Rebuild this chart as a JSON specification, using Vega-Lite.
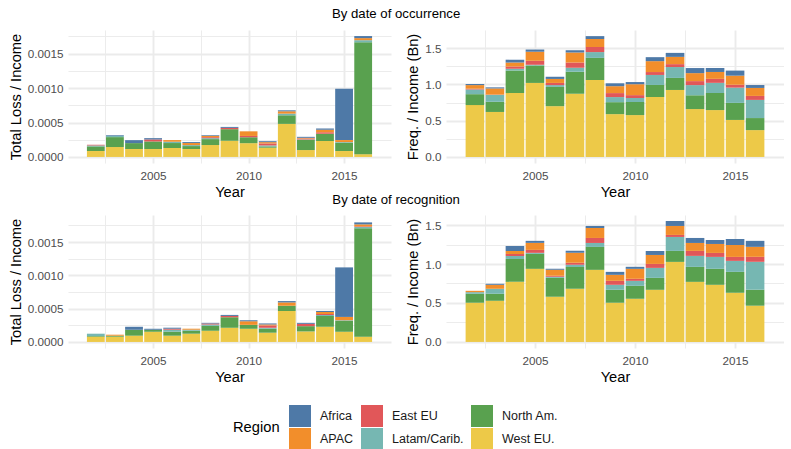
{
  "$schema": "https://vega.github.io/schema/vega-lite/v6.json",
  "background": "white",
  "padding": {"left": 8, "top": 6, "right": 0, "bottom": 2},
  "config": {
    "font": "Liberation Sans",
    "view": {"stroke": null},
    "axis": {
      "domain": false,
      "ticks": false,
      "gridColor": "#EBEBEB",
      "labelColor": "#4D4D4D",
      "labelFontSize": 11.7,
      "labelPadding": 5,
      "titleFontSize": 14.7,
      "titleFontWeight": "normal",
      "titleColor": "#000000",
      "titlePadding": 4
    },
    "axisX": {"labelPadding": 7, "titlePadding": 3},
    "legend": {
      "orient": "bottom",
      "direction": "horizontal",
      "columns": 3,
      "offset": 20,
      "titleOrient": "left",
      "titleFontSize": 14.7,
      "titleFontWeight": "normal",
      "titleColor": "#000000",
      "titlePadding": 9,
      "symbolType": "square",
      "symbolSize": 484,
      "symbolStrokeWidth": 0,
      "symbolOpacity": 1,
      "labelFontSize": 12.5,
      "labelColor": "#1A1A1A",
      "labelOffset": 9,
      "rowPadding": 1,
      "columnPadding": 7,
      "layout": {"bottom": {"anchor": "middle"}}
    },
    "title": {"fontSize": 13.2, "fontWeight": "normal", "anchor": "middle", "color": "#000000"}
  },
  "data": {"values": [
    {"basis":"occurrence","year":2002,"region":"West EU.","loss":0.000086,"freq":0.715},
    {"basis":"occurrence","year":2002,"region":"North Am.","loss":0.000067,"freq":0.15},
    {"basis":"occurrence","year":2002,"region":"Latam/Carib.","loss":0.000014,"freq":0.065},
    {"basis":"occurrence","year":2002,"region":"East EU","loss":0.00001,"freq":0.01},
    {"basis":"occurrence","year":2002,"region":"APAC","loss":0,"freq":0.05},
    {"basis":"occurrence","year":2002,"region":"Africa","loss":0,"freq":0.015},
    {"basis":"occurrence","year":2003,"region":"West EU.","loss":0.000144,"freq":0.62},
    {"basis":"occurrence","year":2003,"region":"North Am.","loss":0.000144,"freq":0.14},
    {"basis":"occurrence","year":2003,"region":"Latam/Carib.","loss":0.000019,"freq":0.095},
    {"basis":"occurrence","year":2003,"region":"East EU","loss":0,"freq":0.004},
    {"basis":"occurrence","year":2003,"region":"APAC","loss":0,"freq":0.085},
    {"basis":"occurrence","year":2003,"region":"Africa","loss":0.00001,"freq":0.015},
    {"basis":"occurrence","year":2004,"region":"West EU.","loss":0.000115,"freq":0.88},
    {"basis":"occurrence","year":2004,"region":"North Am.","loss":0.000086,"freq":0.31},
    {"basis":"occurrence","year":2004,"region":"Latam/Carib.","loss":0,"freq":0.025},
    {"basis":"occurrence","year":2004,"region":"East EU","loss":0,"freq":0.03},
    {"basis":"occurrence","year":2004,"region":"APAC","loss":0,"freq":0.055},
    {"basis":"occurrence","year":2004,"region":"Africa","loss":0.000043,"freq":0.04},
    {"basis":"occurrence","year":2005,"region":"West EU.","loss":0.000115,"freq":1.02},
    {"basis":"occurrence","year":2005,"region":"North Am.","loss":0.00011,"freq":0.24},
    {"basis":"occurrence","year":2005,"region":"Latam/Carib.","loss":0,"freq":0.01},
    {"basis":"occurrence","year":2005,"region":"East EU","loss":0.000029,"freq":0.055},
    {"basis":"occurrence","year":2005,"region":"APAC","loss":0,"freq":0.125},
    {"basis":"occurrence","year":2005,"region":"Africa","loss":0.000019,"freq":0.03},
    {"basis":"occurrence","year":2006,"region":"West EU.","loss":0.00013,"freq":0.7},
    {"basis":"occurrence","year":2006,"region":"North Am.","loss":0.000072,"freq":0.265},
    {"basis":"occurrence","year":2006,"region":"Latam/Carib.","loss":0.000019,"freq":0.025},
    {"basis":"occurrence","year":2006,"region":"East EU","loss":0,"freq":0.03},
    {"basis":"occurrence","year":2006,"region":"APAC","loss":0.000024,"freq":0.055},
    {"basis":"occurrence","year":2006,"region":"Africa","loss":0,"freq":0.03},
    {"basis":"occurrence","year":2007,"region":"West EU.","loss":0.000115,"freq":0.87},
    {"basis":"occurrence","year":2007,"region":"North Am.","loss":0.000043,"freq":0.305},
    {"basis":"occurrence","year":2007,"region":"Latam/Carib.","loss":0.000014,"freq":0.055},
    {"basis":"occurrence","year":2007,"region":"East EU","loss":0,"freq":0.07},
    {"basis":"occurrence","year":2007,"region":"APAC","loss":0.00003,"freq":0.14},
    {"basis":"occurrence","year":2007,"region":"Africa","loss":0.000014,"freq":0.03},
    {"basis":"occurrence","year":2008,"region":"West EU.","loss":0.000173,"freq":1.06},
    {"basis":"occurrence","year":2008,"region":"North Am.","loss":0.000086,"freq":0.305},
    {"basis":"occurrence","year":2008,"region":"Latam/Carib.","loss":0.000014,"freq":0.08},
    {"basis":"occurrence","year":2008,"region":"East EU","loss":0.000014,"freq":0.07},
    {"basis":"occurrence","year":2008,"region":"APAC","loss":0.000019,"freq":0.11},
    {"basis":"occurrence","year":2008,"region":"Africa","loss":0.00001,"freq":0.04},
    {"basis":"occurrence","year":2009,"region":"West EU.","loss":0.000235,"freq":0.59},
    {"basis":"occurrence","year":2009,"region":"North Am.","loss":0.000168,"freq":0.165},
    {"basis":"occurrence","year":2009,"region":"Latam/Carib.","loss":0,"freq":0.07},
    {"basis":"occurrence","year":2009,"region":"East EU","loss":0.000019,"freq":0.055},
    {"basis":"occurrence","year":2009,"region":"APAC","loss":0,"freq":0.095},
    {"basis":"occurrence","year":2009,"region":"Africa","loss":0.000014,"freq":0.04},
    {"basis":"occurrence","year":2010,"region":"West EU.","loss":0.0002,"freq":0.577},
    {"basis":"occurrence","year":2010,"region":"North Am.","loss":0.000086,"freq":0.18},
    {"basis":"occurrence","year":2010,"region":"Latam/Carib.","loss":0,"freq":0.055},
    {"basis":"occurrence","year":2010,"region":"East EU","loss":0.000019,"freq":0.04},
    {"basis":"occurrence","year":2010,"region":"APAC","loss":0.000067,"freq":0.15},
    {"basis":"occurrence","year":2010,"region":"Africa","loss":0,"freq":0.03},
    {"basis":"occurrence","year":2011,"region":"West EU.","loss":0.000134,"freq":0.826},
    {"basis":"occurrence","year":2011,"region":"North Am.","loss":0.000019,"freq":0.166},
    {"basis":"occurrence","year":2011,"region":"Latam/Carib.","loss":0.000014,"freq":0.138},
    {"basis":"occurrence","year":2011,"region":"East EU","loss":0.000029,"freq":0.04},
    {"basis":"occurrence","year":2011,"region":"APAC","loss":0.000019,"freq":0.15},
    {"basis":"occurrence","year":2011,"region":"Africa","loss":0.000014,"freq":0.055},
    {"basis":"occurrence","year":2012,"region":"West EU.","loss":0.00048,"freq":0.923},
    {"basis":"occurrence","year":2012,"region":"North Am.","loss":0.000125,"freq":0.166},
    {"basis":"occurrence","year":2012,"region":"Latam/Carib.","loss":0.000024,"freq":0.15},
    {"basis":"occurrence","year":2012,"region":"East EU","loss":0,"freq":0.04},
    {"basis":"occurrence","year":2012,"region":"APAC","loss":0.000034,"freq":0.1},
    {"basis":"occurrence","year":2012,"region":"Africa","loss":0.000014,"freq":0.055},
    {"basis":"occurrence","year":2013,"region":"West EU.","loss":0.0001,"freq":0.66},
    {"basis":"occurrence","year":2013,"region":"North Am.","loss":0.000149,"freq":0.19},
    {"basis":"occurrence","year":2013,"region":"Latam/Carib.","loss":0.000005,"freq":0.14},
    {"basis":"occurrence","year":2013,"region":"East EU","loss":0.000014,"freq":0.055},
    {"basis":"occurrence","year":2013,"region":"APAC","loss":0.00001,"freq":0.11},
    {"basis":"occurrence","year":2013,"region":"Africa","loss":0.000014,"freq":0.07},
    {"basis":"occurrence","year":2014,"region":"West EU.","loss":0.00023,"freq":0.646},
    {"basis":"occurrence","year":2014,"region":"North Am.","loss":0.000106,"freq":0.235},
    {"basis":"occurrence","year":2014,"region":"Latam/Carib.","loss":0,"freq":0.14},
    {"basis":"occurrence","year":2014,"region":"East EU","loss":0.000024,"freq":0.055},
    {"basis":"occurrence","year":2014,"region":"APAC","loss":0.000034,"freq":0.095},
    {"basis":"occurrence","year":2014,"region":"Africa","loss":0.000019,"freq":0.055},
    {"basis":"occurrence","year":2015,"region":"West EU.","loss":0.000086,"freq":0.51},
    {"basis":"occurrence","year":2015,"region":"North Am.","loss":0.00012,"freq":0.235},
    {"basis":"occurrence","year":2015,"region":"Latam/Carib.","loss":0.00001,"freq":0.21},
    {"basis":"occurrence","year":2015,"region":"East EU","loss":0,"freq":0.04},
    {"basis":"occurrence","year":2015,"region":"APAC","loss":0.000029,"freq":0.125},
    {"basis":"occurrence","year":2015,"region":"Africa","loss":0.000745,"freq":0.07},
    {"basis":"occurrence","year":2016,"region":"West EU.","loss":0.00004,"freq":0.37},
    {"basis":"occurrence","year":2016,"region":"North Am.","loss":0.001625,"freq":0.166},
    {"basis":"occurrence","year":2016,"region":"Latam/Carib.","loss":0.00003,"freq":0.25},
    {"basis":"occurrence","year":2016,"region":"East EU","loss":0,"freq":0.055},
    {"basis":"occurrence","year":2016,"region":"APAC","loss":0.00003,"freq":0.11},
    {"basis":"occurrence","year":2016,"region":"Africa","loss":0.00003,"freq":0.04},

    {"basis":"recognition","year":2002,"region":"West EU.","loss":0.000079,"freq":0.503},
    {"basis":"recognition","year":2002,"region":"North Am.","loss":0.00001,"freq":0.115},
    {"basis":"recognition","year":2002,"region":"Latam/Carib.","loss":0.000035,"freq":0.021},
    {"basis":"recognition","year":2002,"region":"East EU","loss":0,"freq":0},
    {"basis":"recognition","year":2002,"region":"APAC","loss":0,"freq":0.017},
    {"basis":"recognition","year":2002,"region":"Africa","loss":0,"freq":0},
    {"basis":"recognition","year":2003,"region":"West EU.","loss":0.000079,"freq":0.528},
    {"basis":"recognition","year":2003,"region":"North Am.","loss":0.000015,"freq":0.09},
    {"basis":"recognition","year":2003,"region":"Latam/Carib.","loss":0,"freq":0.064},
    {"basis":"recognition","year":2003,"region":"East EU","loss":0,"freq":0},
    {"basis":"recognition","year":2003,"region":"APAC","loss":0.000015,"freq":0.051},
    {"basis":"recognition","year":2003,"region":"Africa","loss":0,"freq":0.013},
    {"basis":"recognition","year":2004,"region":"West EU.","loss":0.000094,"freq":0.771},
    {"basis":"recognition","year":2004,"region":"North Am.","loss":0.000089,"freq":0.294},
    {"basis":"recognition","year":2004,"region":"Latam/Carib.","loss":0,"freq":0.038},
    {"basis":"recognition","year":2004,"region":"East EU","loss":0,"freq":0.026},
    {"basis":"recognition","year":2004,"region":"APAC","loss":0,"freq":0.038},
    {"basis":"recognition","year":2004,"region":"Africa","loss":0.000045,"freq":0.064},
    {"basis":"recognition","year":2005,"region":"West EU.","loss":0.000153,"freq":0.938},
    {"basis":"recognition","year":2005,"region":"North Am.","loss":0.00003,"freq":0.192},
    {"basis":"recognition","year":2005,"region":"Latam/Carib.","loss":0,"freq":0.013},
    {"basis":"recognition","year":2005,"region":"East EU","loss":0,"freq":0.038},
    {"basis":"recognition","year":2005,"region":"APAC","loss":0,"freq":0.09},
    {"basis":"recognition","year":2005,"region":"Africa","loss":0.000015,"freq":0.026},
    {"basis":"recognition","year":2006,"region":"West EU.","loss":0.000094,"freq":0.58},
    {"basis":"recognition","year":2006,"region":"North Am.","loss":0.00006,"freq":0.243},
    {"basis":"recognition","year":2006,"region":"Latam/Carib.","loss":0.00003,"freq":0.013},
    {"basis":"recognition","year":2006,"region":"East EU","loss":0.000015,"freq":0.013},
    {"basis":"recognition","year":2006,"region":"APAC","loss":0,"freq":0.077},
    {"basis":"recognition","year":2006,"region":"Africa","loss":0.000015,"freq":0.013},
    {"basis":"recognition","year":2007,"region":"West EU.","loss":0.000124,"freq":0.682},
    {"basis":"recognition","year":2007,"region":"North Am.","loss":0.000045,"freq":0.281},
    {"basis":"recognition","year":2007,"region":"Latam/Carib.","loss":0.000015,"freq":0.026},
    {"basis":"recognition","year":2007,"region":"East EU","loss":0,"freq":0.026},
    {"basis":"recognition","year":2007,"region":"APAC","loss":0.000015,"freq":0.128},
    {"basis":"recognition","year":2007,"region":"Africa","loss":0,"freq":0.026},
    {"basis":"recognition","year":2008,"region":"West EU.","loss":0.000168,"freq":0.925},
    {"basis":"recognition","year":2008,"region":"North Am.","loss":0.000074,"freq":0.294},
    {"basis":"recognition","year":2008,"region":"Latam/Carib.","loss":0.00002,"freq":0.051},
    {"basis":"recognition","year":2008,"region":"East EU","loss":0.000015,"freq":0.064},
    {"basis":"recognition","year":2008,"region":"APAC","loss":0,"freq":0.128},
    {"basis":"recognition","year":2008,"region":"Africa","loss":0.00001,"freq":0.026},
    {"basis":"recognition","year":2009,"region":"West EU.","loss":0.000213,"freq":0.503},
    {"basis":"recognition","year":2009,"region":"North Am.","loss":0.000158,"freq":0.166},
    {"basis":"recognition","year":2009,"region":"Latam/Carib.","loss":0,"freq":0.064},
    {"basis":"recognition","year":2009,"region":"East EU","loss":0.00002,"freq":0.051},
    {"basis":"recognition","year":2009,"region":"APAC","loss":0,"freq":0.077},
    {"basis":"recognition","year":2009,"region":"Africa","loss":0.000015,"freq":0.038},
    {"basis":"recognition","year":2010,"region":"West EU.","loss":0.000198,"freq":0.554},
    {"basis":"recognition","year":2010,"region":"North Am.","loss":0.000059,"freq":0.166},
    {"basis":"recognition","year":2010,"region":"Latam/Carib.","loss":0,"freq":0.064},
    {"basis":"recognition","year":2010,"region":"East EU","loss":0,"freq":0.026},
    {"basis":"recognition","year":2010,"region":"APAC","loss":0.000054,"freq":0.128},
    {"basis":"recognition","year":2010,"region":"Africa","loss":0.000015,"freq":0.026},
    {"basis":"recognition","year":2011,"region":"West EU.","loss":0.000139,"freq":0.669},
    {"basis":"recognition","year":2011,"region":"North Am.","loss":0.000059,"freq":0.153},
    {"basis":"recognition","year":2011,"region":"Latam/Carib.","loss":0.000015,"freq":0.128},
    {"basis":"recognition","year":2011,"region":"East EU","loss":0.000035,"freq":0.051},
    {"basis":"recognition","year":2011,"region":"APAC","loss":0.000015,"freq":0.115},
    {"basis":"recognition","year":2011,"region":"Africa","loss":0.000015,"freq":0.051},
    {"basis":"recognition","year":2012,"region":"West EU.","loss":0.000465,"freq":1.027},
    {"basis":"recognition","year":2012,"region":"North Am.","loss":0.000079,"freq":0.141},
    {"basis":"recognition","year":2012,"region":"Latam/Carib.","loss":0,"freq":0.179},
    {"basis":"recognition","year":2012,"region":"East EU","loss":0,"freq":0.026},
    {"basis":"recognition","year":2012,"region":"APAC","loss":0.00005,"freq":0.115},
    {"basis":"recognition","year":2012,"region":"Africa","loss":0.00002,"freq":0.064},
    {"basis":"recognition","year":2013,"region":"West EU.","loss":0.000158,"freq":0.771},
    {"basis":"recognition","year":2013,"region":"North Am.","loss":0.000079,"freq":0.192},
    {"basis":"recognition","year":2013,"region":"Latam/Carib.","loss":0,"freq":0.141},
    {"basis":"recognition","year":2013,"region":"East EU","loss":0.000035,"freq":0.064},
    {"basis":"recognition","year":2013,"region":"APAC","loss":0,"freq":0.102},
    {"basis":"recognition","year":2013,"region":"Africa","loss":0.000015,"freq":0.064},
    {"basis":"recognition","year":2014,"region":"West EU.","loss":0.000228,"freq":0.733},
    {"basis":"recognition","year":2014,"region":"North Am.","loss":0.000163,"freq":0.205},
    {"basis":"recognition","year":2014,"region":"Latam/Carib.","loss":0.000015,"freq":0.153},
    {"basis":"recognition","year":2014,"region":"East EU","loss":0.000015,"freq":0.051},
    {"basis":"recognition","year":2014,"region":"APAC","loss":0.00003,"freq":0.115},
    {"basis":"recognition","year":2014,"region":"Africa","loss":0.000015,"freq":0.051},
    {"basis":"recognition","year":2015,"region":"West EU.","loss":0.000153,"freq":0.631},
    {"basis":"recognition","year":2015,"region":"North Am.","loss":0.000163,"freq":0.268},
    {"basis":"recognition","year":2015,"region":"Latam/Carib.","loss":0.00001,"freq":0.141},
    {"basis":"recognition","year":2015,"region":"East EU","loss":0,"freq":0.051},
    {"basis":"recognition","year":2015,"region":"APAC","loss":0.00005,"freq":0.153},
    {"basis":"recognition","year":2015,"region":"Africa","loss":0.000744,"freq":0.077},
    {"basis":"recognition","year":2016,"region":"West EU.","loss":0.00008,"freq":0.465},
    {"basis":"recognition","year":2016,"region":"North Am.","loss":0.001626,"freq":0.205},
    {"basis":"recognition","year":2016,"region":"Latam/Carib.","loss":0.00002,"freq":0.358},
    {"basis":"recognition","year":2016,"region":"East EU","loss":0.00001,"freq":0.064},
    {"basis":"recognition","year":2016,"region":"APAC","loss":0.00003,"freq":0.128},
    {"basis":"recognition","year":2016,"region":"Africa","loss":0.00003,"freq":0.077}
  ]},
  "transform": [
    {"calculate": "indexof(['West EU.', 'North Am.', 'Latam/Carib.', 'East EU', 'APAC', 'Africa'], datum.region)", "as": "stack_rank"}
  ],
  "spacing": -8,
  "vconcat": [
    {
      "title": {"text": "By date of occurrence", "offset": 9},
      "spacing": 14,
      "hconcat": [
        {
          "width": 323, "height": 133,
          "transform": [{"filter": "datum.basis == 'occurrence'"}],
          "mark": {"type": "bar", "width": 17.8},
          "encoding": {
            "x": {"field": "year", "type": "quantitative", "title": "Year",
              "scale": {"domain": [2000.805, 2017.195], "nice": false, "zero": false},
              "axis": {"values": [2002.5, 2005, 2007.5, 2010, 2012.5, 2015],
                "labelExpr": "datum.value % 5 == 0 ? format(datum.value, 'd') : ''",
                "gridWidth": {"condition": {"test": "datum.value % 5 == 0", "value": 1.9}, "value": 0.95}}},
            "y": {"field": "loss", "type": "quantitative", "stack": "zero", "title": "Total Loss / Income",
              "scale": {"domain": [-0.0000878, 0.001843], "nice": false, "zero": false},
              "axis": {"values": [0, 0.00025, 0.0005, 0.00075, 0.001, 0.00125, 0.0015, 0.00175],
                "labelExpr": "round(datum.value * 20000) % 10 == 0 ? format(datum.value, '.4f') : ''",
                "gridWidth": {"condition": {"test": "round(datum.value * 20000) % 10 == 0", "value": 1.9}, "value": 0.95}}},
            "color": {"field": "region", "type": "nominal", "title": "Region",
              "scale": {"domain": ["Africa", "East EU", "North Am.", "APAC", "Latam/Carib.", "West EU."],
                "range": ["#4E79A7", "#E15759", "#59A14F", "#F28E2B", "#76B7B2", "#EDC948"]}},
            "order": {"field": "stack_rank", "type": "quantitative"}
          }
        },
        {
          "width": 338, "height": 133,
          "transform": [{"filter": "datum.basis == 'occurrence'"}],
          "mark": {"type": "bar", "width": 18.6},
          "encoding": {
            "x": {"field": "year", "type": "quantitative", "title": "Year",
              "scale": {"domain": [2000.805, 2017.195], "nice": false, "zero": false},
              "axis": {"values": [2002.5, 2005, 2007.5, 2010, 2012.5, 2015],
                "labelExpr": "datum.value % 5 == 0 ? format(datum.value, 'd') : ''",
                "gridWidth": {"condition": {"test": "datum.value % 5 == 0", "value": 1.9}, "value": 0.95}}},
            "y": {"field": "freq", "type": "quantitative", "stack": "zero", "title": "Freq. / Income (Bn)",
              "scale": {"domain": [-0.0833, 1.7493], "nice": false, "zero": false},
              "axis": {"values": [0, 0.25, 0.5, 0.75, 1, 1.25, 1.5, 1.75],
                "labelExpr": "round(datum.value * 4) % 2 == 0 ? format(datum.value, '.1f') : ''",
                "gridWidth": {"condition": {"test": "round(datum.value * 4) % 2 == 0", "value": 1.9}, "value": 0.95}}},
            "color": {"field": "region", "type": "nominal", "title": "Region",
              "scale": {"domain": ["Africa", "East EU", "North Am.", "APAC", "Latam/Carib.", "West EU."],
                "range": ["#4E79A7", "#E15759", "#59A14F", "#F28E2B", "#76B7B2", "#EDC948"]}},
            "order": {"field": "stack_rank", "type": "quantitative"}
          }
        }
      ]
    },
    {
      "title": {"text": "By date of recognition", "offset": 8},
      "spacing": 14,
      "hconcat": [
        {
          "width": 323, "height": 133,
          "transform": [{"filter": "datum.basis == 'recognition'"}],
          "mark": {"type": "bar", "width": 17.8},
          "encoding": {
            "x": {"field": "year", "type": "quantitative", "title": "Year",
              "scale": {"domain": [2000.805, 2017.195], "nice": false, "zero": false},
              "axis": {"values": [2002.5, 2005, 2007.5, 2010, 2012.5, 2015],
                "labelExpr": "datum.value % 5 == 0 ? format(datum.value, 'd') : ''",
                "gridWidth": {"condition": {"test": "datum.value % 5 == 0", "value": 1.9}, "value": 0.95}}},
            "y": {"field": "loss", "type": "quantitative", "stack": "zero", "title": "Total Loss / Income",
              "scale": {"domain": [-0.0000908, 0.0019068], "nice": false, "zero": false},
              "axis": {"values": [0, 0.00025, 0.0005, 0.00075, 0.001, 0.00125, 0.0015, 0.00175],
                "labelExpr": "round(datum.value * 20000) % 10 == 0 ? format(datum.value, '.4f') : ''",
                "gridWidth": {"condition": {"test": "round(datum.value * 20000) % 10 == 0", "value": 1.9}, "value": 0.95}}},
            "color": {"field": "region", "type": "nominal", "title": "Region",
              "scale": {"domain": ["Africa", "East EU", "North Am.", "APAC", "Latam/Carib.", "West EU."],
                "range": ["#4E79A7", "#E15759", "#59A14F", "#F28E2B", "#76B7B2", "#EDC948"]}},
            "order": {"field": "stack_rank", "type": "quantitative"}
          }
        },
        {
          "width": 338, "height": 133,
          "transform": [{"filter": "datum.basis == 'recognition'"}],
          "mark": {"type": "bar", "width": 18.6},
          "encoding": {
            "x": {"field": "year", "type": "quantitative", "title": "Year",
              "scale": {"domain": [2000.805, 2017.195], "nice": false, "zero": false},
              "axis": {"values": [2002.5, 2005, 2007.5, 2010, 2012.5, 2015],
                "labelExpr": "datum.value % 5 == 0 ? format(datum.value, 'd') : ''",
                "gridWidth": {"condition": {"test": "datum.value % 5 == 0", "value": 1.9}, "value": 0.95}}},
            "y": {"field": "freq", "type": "quantitative", "stack": "zero", "title": "Freq. / Income (Bn)",
              "scale": {"domain": [-0.0776, 1.6286], "nice": false, "zero": false},
              "axis": {"values": [0, 0.25, 0.5, 0.75, 1, 1.25, 1.5],
                "labelExpr": "round(datum.value * 4) % 2 == 0 ? format(datum.value, '.1f') : ''",
                "gridWidth": {"condition": {"test": "round(datum.value * 4) % 2 == 0", "value": 1.9}, "value": 0.95}}},
            "color": {"field": "region", "type": "nominal", "title": "Region",
              "scale": {"domain": ["Africa", "East EU", "North Am.", "APAC", "Latam/Carib.", "West EU."],
                "range": ["#4E79A7", "#E15759", "#59A14F", "#F28E2B", "#76B7B2", "#EDC948"]}},
            "order": {"field": "stack_rank", "type": "quantitative"}
          }
        }
      ]
    }
  ]
}
